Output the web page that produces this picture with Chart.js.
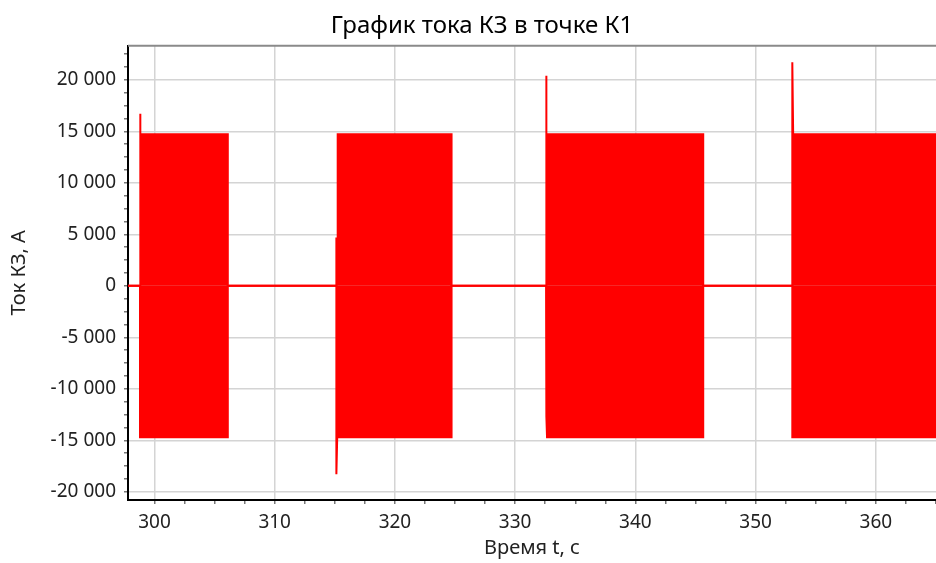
<!DOCTYPE html>
<html>
<head>
<meta charset="utf-8">
<script src="https://cdn.jsdelivr.net/npm/chart.js@4/dist/chart.umd.min.js"></script>
<style>
  body { margin: 0; background: #fff; }
  #wrap { width: 936px; height: 563px; }
</style>
</head>
<body>
<div id="wrap"><canvas id="kzChart" width="936" height="563"></canvas></div>
<script>
// Огибающая тока КЗ (верх / низ): время, с -> ток, А
const upperTime = [297.8, 298.8, 298.8, 298.85, 306.1, 306.1, 315.13, 315.13, 315.2, 315.24, 324.71, 324.71, 332.57, 332.57, 332.62, 345.64, 345.64, 353.05, 353.05, 353.12, 365];
const upperCurrent = [0, 0, 16700, 14700, 14700, 0, 0, 4600, 4600, 14700, 14700, 0, 0, 20400, 14700, 14700, 0, 0, 21700, 14700, 14700];

const lowerTime = [297.8, 298.8, 298.8, 306.1, 306.1, 315.13, 315.13, 315.2, 324.71, 324.71, 332.57, 332.57, 332.62, 332.65, 345.64, 345.64, 353.05, 353.05, 365];
const lowerCurrent = [0, 0, -14700, -14700, 0, 0, -18300, -14700, -14700, 0, 0, -12700, -12700, -14700, -14700, 0, 0, -14700, -14700];

const xLabels = [300, 310, 320, 330, 340, 350, 360];
const yLabels = [-20000, -15000, -10000, -5000, 0, 5000, 10000, 15000, 20000];

const X_MIN = 297.8, X_MAX = 365, X_MINOR = 2.5;
const Y_MIN = -20800, Y_MAX = 23300, Y_MINOR = 1250;

const FONT = '"Noto Sans", sans-serif';

function fmt(v) {
    const s = Math.abs(v).toString().replace(/\B(?=(\d{3})+(?!\d))/g, ' ');
    return (v < 0 ? '-' : '') + s;
}

function toPoints(xs, ys) {
    return xs.map((x, i) => ({ x: x, y: ys[i] }));
}

// основные + промежуточные деления
function minorTicks(min, max, step) {
    const out = [];
    for (let v = Math.ceil(min / step) * step; v <= max + 1e-9; v += step) {
        out.push({ value: Math.round(v * 100) / 100 });
    }
    return out;
}

function isMajor(list, v) {
    return list.some(m => Math.abs(m - v) < 1e-6);
}

// серая рамка сверху графика, заголовок чуть правее центра (как в исходнике)
const frame = {
    id: 'frame',
    afterLayout(chart) {
        if (chart.titleBlock) chart.titleBlock.left += 28;
    },
    afterDraw(chart) {
        const { ctx, chartArea } = chart;
        ctx.save();
        ctx.strokeStyle = '#8a8a8a';
        ctx.lineWidth = 2;
        ctx.beginPath();
        ctx.moveTo(chartArea.left, chartArea.top);
        ctx.lineTo(chartArea.right, chartArea.top);
        ctx.stroke();
        ctx.restore();
    }
};

new Chart(document.getElementById('kzChart').getContext('2d'), {
    type: 'line',
    data: {
        datasets: [
            {
                data: toPoints(upperTime, upperCurrent),
                borderColor: '#ff0000',
                backgroundColor: '#ff0000',
                borderWidth: 2,
                fill: 'origin',
                pointRadius: 0,
                tension: 0
            },
            {
                data: toPoints(lowerTime, lowerCurrent),
                borderColor: '#ff0000',
                backgroundColor: '#ff0000',
                borderWidth: 2,
                fill: 'origin',
                pointRadius: 0,
                tension: 0
            }
        ]
    },
    options: {
        responsive: false,
        animation: false,
        layout: { padding: 0 },
        plugins: {
            legend: { display: false },
            tooltip: { enabled: false },
            title: {
                display: true,
                text: 'График тока КЗ в точке К1',
                color: '#000',
                font: { family: FONT, size: 24, weight: 'normal', lineHeight: 1.2 },
                padding: { top: 12, bottom: 5 }
            }
        },
        scales: {
            x: {
                type: 'linear',
                min: X_MIN,
                max: X_MAX,
                afterBuildTicks: s => { s.ticks = minorTicks(X_MIN, X_MAX, X_MINOR); },
                afterFit: s => { s.height = 63; s.paddingLeft = 0; s.paddingRight = 0; },
                border: { color: '#000', width: 2 },
                grid: {
                    color: c => isMajor(xLabels, c.tick.value) ? '#d4d4d4' : 'rgba(0,0,0,0)',
                    lineWidth: 1.5,
                    tickColor: '#777',
                    tickLength: 4
                },
                ticks: {
                    autoSkip: false,
                    maxRotation: 0,
                    padding: 7,
                    color: '#222',
                    font: { family: FONT, size: 19 },
                    callback: v => isMajor(xLabels, v) ? String(Math.round(v)) : ''
                },
                title: {
                    display: true,
                    text: 'Время t, с',
                    color: '#222',
                    font: { family: FONT, size: 20 },
                    padding: { top: 0, bottom: 3 }
                }
            },
            y: {
                min: Y_MIN,
                max: Y_MAX,
                afterBuildTicks: s => { s.ticks = minorTicks(Y_MIN, Y_MAX, Y_MINOR); },
                afterFit: s => { s.width = 128; s.paddingTop = 0; s.paddingBottom = 0; },
                border: { color: '#000', width: 2 },
                grid: {
                    color: c => isMajor(yLabels, c.tick.value) ? '#d4d4d4' : 'rgba(0,0,0,0)',
                    lineWidth: 1.5,
                    tickColor: '#777',
                    tickLength: 4
                },
                ticks: {
                    autoSkip: false,
                    padding: 8,
                    color: '#222',
                    font: { family: FONT, size: 19 },
                    callback: v => isMajor(yLabels, v) ? fmt(v) : ''
                },
                title: {
                    display: true,
                    text: 'Ток КЗ, А',
                    color: '#222',
                    font: { family: FONT, size: 20 },
                    padding: { top: 7, bottom: 0 }
                }
            }
        }
    },
    plugins: [frame]
});
</script>
</body>
</html>
